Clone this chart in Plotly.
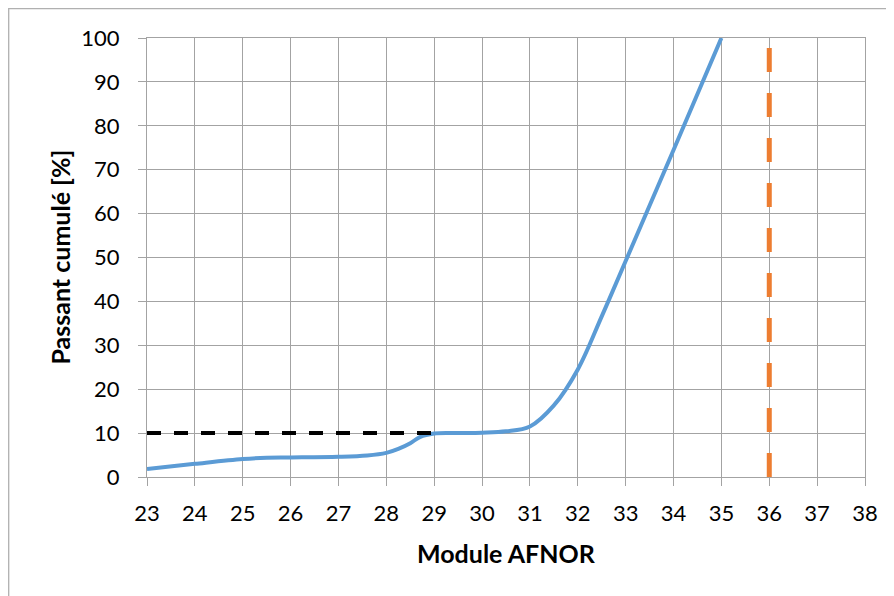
import plotly.graph_objects as go

# Data
blue_x = [23, 24, 25, 25.5, 26, 27, 27.6, 28, 28.25, 28.5, 28.7, 29, 29.5, 30, 30.5, 31, 31.5, 32, 32.5, 33, 34, 35]
blue_y = [1.8, 3.0, 4.1, 4.4, 4.45, 4.6, 4.9, 5.5, 6.4, 7.7, 9.1, 9.9, 10.0, 10.1, 10.4, 11.5, 16.3, 24.5, 36.6, 49.2, 74.5, 100]
black_x = [23, 29]
black_y = [10, 10]
orange_x = [36, 36]
orange_y = [0, 100]
x_ticks = list(range(23, 39))
y_ticks = list(range(0, 101, 10))

# page body has an 8px margin, so the figure is shifted by 8px
W, H = 886, 588
L, R, T, B = 139, 29, 30, 119
pw, ph = W - L - R, H - T - B

def px(xp):
    return (xp - L) / pw

def py(yp):
    return (H - B - yp) / ph

FONT = "Lato"
GRID = "#a3a3a3"

fig = go.Figure()
fig.add_trace(go.Scatter(x=blue_x, y=blue_y, mode="lines",
                         line=dict(color="#5B9BD5", width=4, shape="spline", smoothing=1.0),
                         cliponaxis=False, showlegend=False))
fig.add_trace(go.Scatter(x=black_x, y=black_y, mode="lines",
                         line=dict(color="#000000", width=4, dash="14px,13px"),
                         cliponaxis=False, showlegend=False))
fig.add_trace(go.Scatter(x=orange_x, y=orange_y, mode="lines",
                         line=dict(color="#ED7D31", width=5, dash="24px,21px"),
                         cliponaxis=False, showlegend=False))

fig.update_layout(
    width=W, height=H,
    margin=dict(l=L, r=R, t=T, b=B),
    paper_bgcolor="white", plot_bgcolor="white",
    font=dict(family=FONT, size=22, color="#000000"),
    xaxis=dict(range=[23, 38], tickvals=x_ticks, ticktext=[str(v) for v in x_ticks],
               showgrid=True, gridcolor=GRID, gridwidth=1.3,
               showline=True, linecolor=GRID, linewidth=1.3, mirror=True,
               ticks="outside", ticklen=8, tickcolor=GRID, tickwidth=1.3,
               ticklabelstandoff=8,
               zeroline=False, fixedrange=True),
    yaxis=dict(range=[0, 100], tickvals=y_ticks, ticktext=[str(v) for v in y_ticks],
               showgrid=True, gridcolor=GRID, gridwidth=1.3,
               showline=True, linecolor=GRID, linewidth=1.3, mirror=True,
               ticks="outside", ticklen=8, tickcolor=GRID, tickwidth=1.3,
               ticklabelstandoff=14,
               zeroline=False, fixedrange=True),
    annotations=[
        dict(text="<b>Passant cumulé [%]</b>", xref="paper", yref="paper",
             x=px(51), y=0.5, xanchor="center", yanchor="middle", textangle=-90,
             showarrow=False, font=dict(family=FONT, size=25)),
        dict(text="<b>Module AFNOR</b>", xref="paper", yref="paper",
             x=0.5, y=py(545), xanchor="center", yanchor="middle",
             showarrow=False, font=dict(family=FONT, size=25)),
    ],
    shapes=[
        dict(type="rect", xref="paper", yref="paper", layer="below",
             x0=px(0.7), x1=px(W + 20), y0=py(H + 20), y1=py(0.7),
             line=dict(color="#b0b0b0", width=1.3)),
    ],
)

fig.write_html("out.html")
